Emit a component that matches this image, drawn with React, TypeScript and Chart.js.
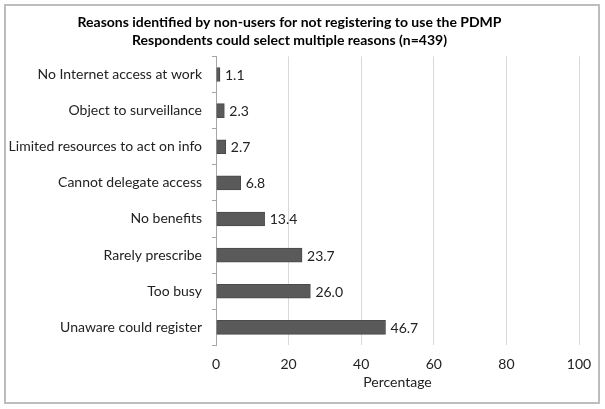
import React, { useEffect, useRef } from "react";
import { Chart, registerables } from "chart.js";

Chart.register(...registerables);

const categories = [
  "No Internet access at work",
  "Object to surveillance",
  "Limited resources to act on info",
  "Cannot delegate access",
  "No benefits",
  "Rarely prescribe",
  "Too busy",
  "Unaware could register",
];
const values = [1.1, 2.3, 2.7, 6.8, 13.4, 23.7, 26.0, 46.7];
const titleLines = [
  "Reasons identified by non-users for not registering to use the PDMP",
  "Respondents could select multiple reasons (n=439)",
];
const xTitle = "Percentage";

const FONT = "Lato, 'Open Sans', sans-serif";
const TEXT = "#222222";

const frame = {
  id: "frame",
  beforeDraw(chart: any) {
    const ctx = chart.ctx;
    ctx.save();
    ctx.fillStyle = "#ffffff";
    ctx.fillRect(0, 0, chart.width, chart.height);
    ctx.strokeStyle = "#bdbdbd";
    ctx.lineWidth = 2;
    ctx.strokeRect(5, 5, chart.width - 11, chart.height - 11);
    ctx.restore();
  },
};

const valueLabels = {
  id: "valueLabels",
  afterDatasetsDraw(chart: any) {
    const ctx = chart.ctx;
    const meta = chart.getDatasetMeta(0);
    const ds = chart.data.datasets[0];
    ctx.save();
    ctx.font = "14px " + FONT;
    ctx.fillStyle = TEXT;
    ctx.textAlign = "left";
    ctx.textBaseline = "middle";
    meta.data.forEach((bar: any, i: number) => {
      ctx.fillText((ds.data[i] as number).toFixed(1), bar.x + 5, bar.y + 1);
    });
    ctx.restore();
  },
};

export default function App() {
  const ref = useRef<HTMLCanvasElement>(null);
  useEffect(() => {
    document.body.style.margin = "0";
    const chart = new Chart(ref.current!, {
      type: "bar",
      data: {
        labels: categories,
        datasets: [
          {
            data: values,
            backgroundColor: "#5a5a5a",
            borderColor: "#4a4a4a",
            borderWidth: 1,
            barThickness: 14,
          },
        ],
      },
      options: {
        indexAxis: "y",
        animation: false,
        responsive: false,
        layout: { padding: { left: 0, right: 26, top: 0, bottom: 18 } },
        plugins: {
          legend: { display: false },
          tooltip: { enabled: false },
          title: {
            display: true,
            text: titleLines,
            color: "#000000",
            font: { family: FONT, size: 14, weight: "bold", lineHeight: 1.3 },
            padding: { top: 13, bottom: 7 },
          },
        },
        scales: {
          x: {
            min: 0,
            max: 100,
            ticks: {
              stepSize: 20,
              color: TEXT,
              font: { family: FONT, size: 14 },
              padding: 11,
            },
            grid: { color: "#d9d9d9", drawTicks: false },
            border: { display: false },
            title: {
              display: true,
              text: xTitle,
              color: TEXT,
              font: { family: FONT, size: 14 },
              padding: { top: -10, bottom: 0 },
            },
          },
          y: {
            afterFit(scale: any) {
              scale.width = 216;
            },
            ticks: {
              color: TEXT,
              font: { family: FONT, size: 14 },
              padding: 10,
            },
            grid: {
              offset: true,
              drawOnChartArea: false,
              drawTicks: true,
              tickLength: 4,
              color: "#a6a6a6",
            },
            border: { display: true, color: "#a6a6a6" },
          },
        },
      },
      plugins: [frame, valueLabels],
    });
    return () => chart.destroy();
  }, []);
  return (
    <div style={{ width: 605, height: 409 }}>
      <canvas ref={ref} width={605} height={409} style={{ display: "block" }} />
    </div>
  );
}
